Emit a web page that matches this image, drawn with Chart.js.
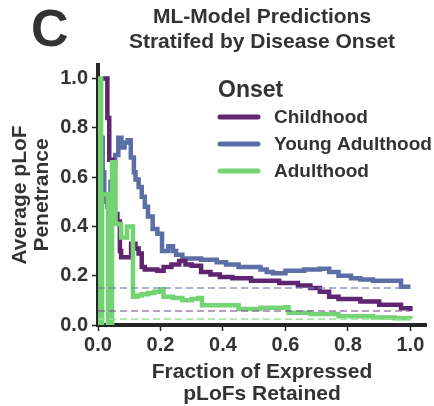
<!DOCTYPE html>
<html>
<head>
<meta charset="utf-8">
<script src="https://cdn.jsdelivr.net/npm/chart.js@4.4.0/dist/chart.umd.min.js"></script>
<style>
  html, body { margin: 0; padding: 0; background: #fff; }
  #quadro { width: 434px; height: 406px; position: relative; }
</style>
</head>
<body>
<div id="quadro"><canvas id="graficoOnset"></canvas></div>
<script>
const nomesOnset = ['Childhood', 'Young Adulthood', 'Adulthood'];
const coresOnset = ['#5f2570', '#5b6fa6', '#74d474'];
const coresBase = ['rgba(130, 80, 145, 0.75)', 'rgba(110, 130, 180, 0.8)', 'rgba(150, 225, 150, 0.85)'];

const xTicks = [0, 0.2, 0.4, 0.6, 0.8, 1.0];
const yTicks = [0, 0.2, 0.4, 0.6, 0.8, 1.0];

const childX = [0.015, 0.03, 0.036, 0.046, 0.054, 0.062, 0.07, 0.074, 0.106, 0.12, 0.13, 0.14, 0.15, 0.19, 0.21, 0.235, 0.26, 0.28, 0.30, 0.33, 0.36, 0.39, 0.43, 0.49, 0.58, 0.64, 0.68, 0.71, 0.74, 0.77, 0.84, 0.90, 0.97, 1.0];
const childY = [1.0, 0.84, 0.67, 0.60, 0.45, 0.42, 0.30, 0.275, 0.33, 0.31, 0.29, 0.235, 0.225, 0.22, 0.235, 0.245, 0.26, 0.245, 0.24, 0.215, 0.205, 0.195, 0.19, 0.18, 0.17, 0.16, 0.15, 0.135, 0.115, 0.105, 0.095, 0.082, 0.068, 0.057];

const youngX = [0.012, 0.015, 0.02, 0.03, 0.04, 0.05, 0.055, 0.065, 0.075, 0.085, 0.095, 0.105, 0.115, 0.12, 0.13, 0.14, 0.15, 0.16, 0.175, 0.19, 0.205, 0.225, 0.24, 0.25, 0.27, 0.33, 0.38, 0.41, 0.45, 0.52, 0.54, 0.56, 0.60, 0.66, 0.71, 0.74, 0.77, 0.81, 0.84, 0.88, 0.97, 1.0];
const youngY = [0.76, 0.62, 0.50, 0.48, 0.58, 0.65, 0.69, 0.76, 0.72, 0.74, 0.75, 0.68, 0.62, 0.59, 0.56, 0.52, 0.48, 0.44, 0.39, 0.37, 0.30, 0.32, 0.30, 0.285, 0.27, 0.265, 0.255, 0.245, 0.235, 0.225, 0.215, 0.21, 0.22, 0.225, 0.228, 0.215, 0.20, 0.19, 0.185, 0.18, 0.155, 0.155];

const adultX = [0.004, 0.006, 0.01, 0.013, 0.032, 0.045, 0.056, 0.074, 0.093, 0.112, 0.125, 0.14, 0.16, 0.18, 0.20, 0.21, 0.24, 0.27, 0.30, 0.32, 0.333, 0.45, 0.52, 0.60, 0.61, 0.68, 0.77, 0.88, 0.95, 1.0];
const adultY = [0.0, 1.0, 0.0, 0.53, 0.0, 0.66, 0.41, 0.355, 0.40, 0.115, 0.12, 0.125, 0.13, 0.135, 0.145, 0.115, 0.11, 0.10, 0.105, 0.11, 0.08, 0.065, 0.07, 0.072, 0.05, 0.045, 0.035, 0.03, 0.027, 0.025];

// linhas tracejadas de referência
const baseX = [0, 1.0];
const baseOnset = [0.057, 0.15, 0.024];

const fonte = '"Liberation Sans", Arial, Helvetica, sans-serif';
Chart.defaults.font.family = fonte;
Chart.defaults.color = '#333';

const pares = (xs, ys) => xs.map((x, i) => ({ x: x, y: ys[i] }));

const seriesX = [childX, youngX, adultX];
const seriesY = [childY, youngY, adultY];
const ordemSolida = [2, 3, 1];

const datasets = [];
nomesOnset.forEach((nome, i) => {
    datasets.push({
        label: nome,
        data: pares(seriesX[i], seriesY[i]),
        borderColor: coresOnset[i],
        borderWidth: 4.5,
        stepped: true,
        pointRadius: 0,
        fill: false,
        order: ordemSolida[i],
    });
});
nomesOnset.forEach((nome, i) => {
    datasets.push({
        label: nome + ' base',
        data: pares(baseX, [baseOnset[i], baseOnset[i]]),
        borderColor: coresBase[i],
        borderWidth: 1.6,
        borderDash: [7, 4],
        pointRadius: 0,
        fill: false,
        order: 0,
    });
});

// legenda e letra do painel desenhadas dentro do canvas
const legendaOnset = {
    id: 'legendaOnset',
    afterDraw(chart) {
        const ctx = chart.ctx;
        ctx.save();
        ctx.fillStyle = '#333';
        ctx.textBaseline = 'middle';
        ctx.font = 'bold 23px ' + fonte;
        ctx.fillText('Onset', 218, 91);
        ctx.font = 'bold 19px ' + fonte;
        nomesOnset.forEach((nome, i) => {
            const y = 117 + i * 27;
            ctx.strokeStyle = coresOnset[i];
            ctx.lineWidth = 5;
            ctx.lineCap = 'round';
            ctx.beginPath();
            ctx.moveTo(220, y);
            ctx.lineTo(258, y);
            ctx.stroke();
            ctx.fillText(nome, 274, y + 1);
        });
        ctx.textBaseline = 'alphabetic';
        ctx.font = 'bold 52px ' + fonte;
        ctx.fillText('C', 31, 46);
        ctx.restore();
    }
};

const eixoFonte = { size: 20, weight: 'bold' };
const gradeEixo = { display: true, drawOnChartArea: false, drawTicks: true, tickLength: 6, tickWidth: 1.5, tickColor: '#262626' };
const bordaEixo = { display: true, width: 4, color: '#262626' };

const config = {
    type: 'line',
    data: { datasets: datasets },
    options: {
        responsive: true,
        maintainAspectRatio: false,
        animation: false,
        devicePixelRatio: 1,
        layout: { padding: { left: 0, right: 8, top: 0, bottom: 0 } },
        plugins: {
            legend: { display: false },
            tooltip: { enabled: false },
            title: {
                display: true,
                text: ['ML-Model Predictions', 'Stratifed by Disease Onset'],
                font: { size: 21, weight: 'bold', lineHeight: 1.19 },
                color: '#333',
                fullSize: false,
                padding: { top: 5, bottom: 10 },
            },
        },
        scales: {
            x: {
                type: 'linear',
                min: 0,
                max: 1.05,
                afterBuildTicks: s => { s.ticks = xTicks.map(v => ({ value: v })); },
                afterFit: s => { s.height = 81; },
                ticks: { font: eixoFonte, color: '#333', padding: 2, maxRotation: 0, autoSkip: false, callback: v => v.toFixed(1) },
                grid: gradeEixo,
                border: bordaEixo,
                title: {
                    display: true,
                    text: ['Fraction of Expressed', 'pLoFs Retained'],
                    font: { size: 21, weight: 'bold', lineHeight: 1.05 },
                    color: '#333',
                    padding: { top: 0, bottom: 1 },
                },
            },
            y: {
                type: 'linear',
                min: 0,
                max: 1.055,
                afterBuildTicks: s => { s.ticks = yTicks.map(v => ({ value: v })); },
                afterFit: s => { s.width = 98; },
                ticks: { font: eixoFonte, color: '#333', padding: 4, autoSkip: false, callback: v => v.toFixed(1) },
                grid: gradeEixo,
                border: bordaEixo,
                title: {
                    display: true,
                    text: ['Average pLoF', 'Penetrance'],
                    font: { size: 21, weight: 'bold', lineHeight: 1.05 },
                    color: '#333',
                    padding: { top: 9, bottom: 0 },
                },
            },
        },
    },
    plugins: [legendaOnset],
};

new Chart(document.getElementById('graficoOnset'), config);
</script>
</body>
</html>
